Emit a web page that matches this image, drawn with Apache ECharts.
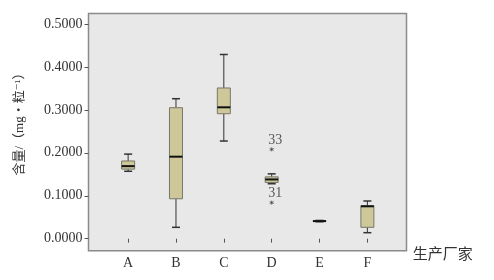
<!DOCTYPE html>
<html>
<head>
<meta charset="utf-8">
<script src="https://cdn.jsdelivr.net/npm/echarts@6/dist/echarts.min.js"></script>
<style>html,body{margin:0;padding:0;background:#fff;}#c{width:494px;height:280px;}</style>
</head>
<body>
<div id="c"></div>
<script>
var categories = ['A', 'B', 'C', 'D', 'E', 'F'];
var lowWhisker = [0.157, 0.0265, 0.2275, 0.128, 0.0395, 0.014];
var q1 = [0.162, 0.093, 0.291, 0.131, 0.0400, 0.0265];
var median = [0.169, 0.191, 0.306, 0.138, 0.041, 0.0755];
var q3 = [0.181, 0.305, 0.351, 0.144, 0.042, 0.0765];
var highWhisker = [0.197, 0.326, 0.429, 0.151, 0.0425, 0.0878];
var outlierCats = ['D', 'D'];
var outlierValues = [0.208, 0.084];
var outlierLabels = ['33', '31'];
var yTicks = [0, 0.1, 0.2, 0.3, 0.4, 0.5];
var yTitle = '含量/（mg・粒⁻¹）';
var xTitle = '生产厂家';

var serif = '"Liberation Serif", "DejaVu Serif", "Noto Sans CJK SC", serif';
var boxRows = categories.map(function (c, i) {
  return [i, lowWhisker[i], q1[i], median[i], q3[i], highWhisker[i]];
});
var outRows = outlierCats.map(function (c, i) {
  return { value: [categories.indexOf(c), outlierValues[i]], name: outlierLabels[i] };
});

var chart = echarts.init(document.getElementById('c'), null, { renderer: 'canvas' });
chart.setOption({
  animation: false,
  backgroundColor: '#fff',
  graphic: [
    { type: 'rect', z: -10, shape: { x: 88.5, y: 13.5, width: 318, height: 237.2 },
      style: { fill: '#e8e8e8', stroke: '#8a8a8a', lineWidth: 1.5 } },
    { type: 'text', x: 20, y: 121, rotation: Math.PI / 2,
      style: { text: yTitle, font: '13px ' + serif, fill: '#333', align: 'center', verticalAlign: 'middle' } }
  ],
  grid: { left: 104.2, right: 102.7, top: 24, bottom: 41.3 },
  xAxis: {
    type: 'category', data: categories, offset: 12,
    axisLine: { show: false },
    axisTick: { show: true, alignWithLabel: true, length: 4, lineStyle: { color: '#555' } },
    axisLabel: { margin: 6, fontFamily: serif, fontSize: 14, color: '#333' },
    name: xTitle, nameLocation: 'end', nameGap: 21.5,
    nameTextStyle: { fontFamily: '"Noto Sans CJK SC"', fontSize: 15, color: '#333', align: 'left', verticalAlign: 'top', padding: [7, 0, 0, 0] },
    splitLine: { show: false }
  },
  yAxis: {
    type: 'value', min: yTicks[0], max: yTicks[yTicks.length - 1], interval: 0.1, offset: 15.7,
    axisLine: { show: false },
    axisTick: { show: true, length: 4, lineStyle: { color: '#555' } },
    axisLabel: { margin: 6, fontFamily: serif, fontSize: 14, color: '#333', formatter: function (v) { return v.toFixed(4); } },
    splitLine: { show: false }
  },
  series: [
    {
      type: 'custom',
      data: boxRows,
      encode: { x: 0, y: [1, 2, 3, 4, 5] },
      renderItem: function (params, api) {
        var i = api.value(0);
        var pLow = api.coord([i, api.value(1)]);
        var pQ1 = api.coord([i, api.value(2)]);
        var pMed = api.coord([i, api.value(3)]);
        var pQ3 = api.coord([i, api.value(4)]);
        var pHigh = api.coord([i, api.value(5)]);
        var x = pMed[0];
        var hw = 6.5, cw = 4;
        var lineStyle = { stroke: '#333', lineWidth: 1 };
        return {
          type: 'group',
          children: [
            { type: 'line', shape: { x1: x, y1: pHigh[1], x2: x, y2: pQ3[1] }, style: lineStyle },
            { type: 'line', shape: { x1: x, y1: pQ1[1], x2: x, y2: pLow[1] }, style: lineStyle },
            { type: 'line', shape: { x1: x - cw, y1: pHigh[1], x2: x + cw, y2: pHigh[1] }, style: { stroke: '#333', lineWidth: 1.5 } },
            { type: 'line', shape: { x1: x - cw, y1: pLow[1], x2: x + cw, y2: pLow[1] }, style: { stroke: '#333', lineWidth: 1.5 } },
            { type: 'rect', shape: { x: x - hw, y: pQ3[1], width: hw * 2, height: pQ1[1] - pQ3[1] },
              style: { fill: '#cdc799', stroke: '#77776a', lineWidth: 1 } },
            { type: 'line', shape: { x1: x - hw, y1: pMed[1], x2: x + hw, y2: pMed[1] }, style: { stroke: '#111', lineWidth: 2 } }
          ]
        };
      }
    },
    {
      type: 'scatter',
      data: outRows,
      symbol: 'path://M0,-5L0,5M-4.3,-2.5L4.3,2.5M-4.3,2.5L4.3,-2.5',
      symbolSize: 4,
      itemStyle: { color: 'none', borderColor: '#444', borderWidth: 1 },
      label: {
        show: true, position: [1, -12], align: 'left', verticalAlign: 'top',
        formatter: function (p) { return p.name; },
        fontFamily: serif, fontSize: 14, color: '#333'
      }
    }
  ]
});
</script>
</body>
</html>
